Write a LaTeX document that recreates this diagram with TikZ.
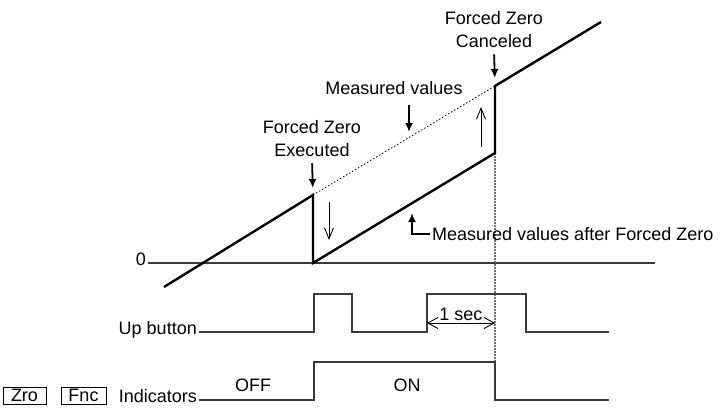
\documentclass[tikz,border=0pt]{standalone}
\usepackage{fontspec}
\setmainfont{Liberation Sans}
\usetikzlibrary{arrows.meta,positioning}
\definecolor{wavegray}{HTML}{3A3A3A}
\definecolor{guidegray}{HTML}{707070}
\tikzset{
  >={Latex[length=9pt,width=8pt]},
  lbl/.style={font=\fontsize{18}{23}\selectfont,inner sep=2pt,align=center},
  % measured value trace
  trace/.style={draw=black,line width=2.4pt,line join=miter},
  ghost/.style={draw=black,line width=0.8pt,dash pattern=on 1.5pt off 2pt},
  guide/.style={draw=guidegray,line width=1.3pt,dash pattern=on 1.5pt off 1.5pt},
  callout/.style={->,draw=black,line width=1.8pt},
  jump/.style={-{Straight Barb[length=11pt,width=9pt]},draw=black,line width=0.9pt},
  % timing rows
  wave/.style={draw=wavegray,line width=1.3pt},
  onesec/.style={{Straight Barb[length=10pt,width=11pt]}-{Straight Barb[length=10pt,width=11pt]},
                 draw=black,line width=0.9pt},
  keybox/.style={draw=black,line width=0.9pt,minimum width=43pt,minimum height=17pt,
                 inner sep=0pt,font=\fontsize{18}{23}\selectfont},
}
\begin{document}
\begin{tikzpicture}[x=1pt,y=-1pt]
\useasboundingbox (0,0) rectangle (720,412);
  \coordinate (m0) at (164,287);
  \coordinate (fzA) at (313,195);
  \coordinate (fzB) at (313,263);
  \coordinate (fcA) at (495,153);
  \coordinate (fcB) at (495,86);
  \coordinate (m1) at (601,22);
  \coordinate (onghost) at (409,139);
  \coordinate (aftertip) at (412,213);
  \coordinate (zend) at (655,263);
  \coordinate (indhigh) at (495,362);
  \node[lbl,anchor=mid east] (zero) at (148,263) {0};
  \draw[wave] (zero.mid east) -- (zend);
  \draw[guide] (fcA) -- (indhigh);
  \draw[ghost] (fzA) -- (fcB);
  \draw[trace] (m0) -- (fzA) -- (fzB) -- (fcA) -- (fcB) -- (m1);
  \node[lbl] (exec) at (312,139) {Forced Zero\\Executed};
  \node[lbl] (canc) at (494,30) {Forced Zero\\Canceled};
  \node[lbl] (meas) at (394,88) {Measured values};
  \node[lbl,anchor=mid west] (after) at (430,238) {Measured values after Forced Zero};
  \draw[callout,shorten <=4pt,shorten >=7pt] (exec.south) -- (fzA);
  \draw[callout,shorten <=4pt,shorten >=8pt] (canc.south) -- (fcB);
  \draw[callout,shorten <=8pt,shorten >=7pt] (onghost |- meas.south) -- (onghost);
  \draw[callout] (after.west) -| (aftertip);
  \coordinate (dnfrom) at (329,202);
  \coordinate (dnto) at (329,240);
  \coordinate (upfrom) at (481,147);
  \coordinate (upto) at (481,107);
  \draw[jump] (dnfrom) -- (dnto);
  \draw[jump] (upfrom) -- (upto);
  % Up button
  \node[lbl,anchor=mid east] (upbtn) at (199,332) {Up button};
  \draw[wave] (upbtn.mid east) -- (314,332) |- (352,294) |- (427,332) |- (526,294) |- (609,332);
  \coordinate (secL) at (427,323);
  \coordinate (secR) at (495,323);
  \draw[onesec] (secL) -- node[lbl,anchor=south,inner sep=0pt,yshift=2pt] (sec) {1 sec} (secR);
  % Indicators
  \node[keybox] (zro) at (24.5,395.5) {Zro};
  \node[keybox,minimum width=45pt] (fnc) at (83.5,395.5) {Fnc};
  \node[lbl,anchor=mid east] (ind) at (199,400) {Indicators};
  \draw[wave] (ind.mid east) -- (314,400) |- (indhigh) |- (609,400);
  \node[lbl] (off) at (253,385) {OFF};
  \node[lbl] (on) at (407,385) {ON};
\end{tikzpicture}
\end{document}
